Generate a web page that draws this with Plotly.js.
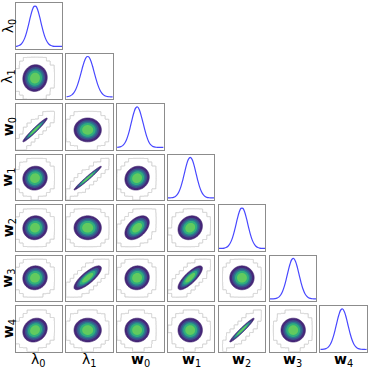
<!DOCTYPE html>
<html><head><meta charset="utf-8">
<script src="https://cdn.plot.ly/plotly-3.0.1.min.js"></script>
<style>html,body{margin:0;padding:0;background:#fff}#chart{width:369px;height:369px}</style>
</head><body><div id="chart"></div>
<script>
// ---- data ----
const paramLabels = ['λ<sub>0</sub>','λ<sub>1</sub>','<b>w</b><sub>0</sub>','<b>w</b><sub>1</sub>','<b>w</b><sub>2</sub>','<b>w</b><sub>3</sub>','<b>w</b><sub>4</sub>'];
const histX = [0,0.04,0.08,0.12,0.16,0.20,0.24,0.28,0.32,0.36,0.40,0.44,0.48,0.52,0.56,0.60,0.64,0.68,0.72,0.76,0.80,0.84,0.88,0.92,0.96,1.0];
const histLambda0 = [0.004,0.010,0.025,0.056,0.115,0.212,0.355,0.534,0.726,0.891,0.987,0.987,0.891,0.726,0.534,0.355,0.212,0.115,0.056,0.025,0.010,0.004,0.001,0,0,0];
const histLambda1 = [0.005,0.011,0.025,0.052,0.101,0.178,0.291,0.438,0.607,0.775,0.912,0.990,0.990,0.912,0.775,0.607,0.438,0.291,0.178,0.101,0.052,0.025,0.011,0.005,0.002,0.001];
const histW0 = [0.003,0.008,0.020,0.046,0.097,0.184,0.315,0.487,0.679,0.855,0.972,0.997,0.923,0.772,0.600,0.420,0.260,0.140,0.068,0.031,0.013,0.005,0.002,0,0,0];
const histW1 = [0.001,0.002,0.006,0.016,0.038,0.081,0.159,0.278,0.441,0.631,0.815,0.950,1.0,0.950,0.815,0.631,0.441,0.278,0.159,0.081,0.038,0.016,0.006,0.002,0.001,0];
const histW2 = [0,0.001,0.004,0.010,0.025,0.056,0.115,0.212,0.355,0.534,0.726,0.891,0.987,0.987,0.891,0.726,0.534,0.355,0.212,0.115,0.056,0.025,0.010,0.004,0.001,0];
const histW3 = [0,0.001,0.003,0.008,0.020,0.046,0.097,0.184,0.315,0.487,0.679,0.855,0.972,0.997,0.923,0.772,0.582,0.397,0.244,0.135,0.068,0.031,0.013,0.005,0.002,0];
const histW4 = [0.001,0.003,0.008,0.020,0.046,0.097,0.184,0.315,0.487,0.679,0.855,0.972,0.997,0.923,0.772,0.582,0.397,0.244,0.135,0.068,0.031,0.013,0.005,0.002,0,0];
const hists = [histLambda0,histLambda1,histW0,histW1,histW2,histW3,histW4];

// 2D posterior summaries (panel-fraction units)
const centers = [0.42,0.46,0.43,0.48,0.50,0.51,0.47];
const sigmas  = [0.125,0.14,0.125,0.125,0.125,0.125,0.125];
const corrLambda0 = [1,0.05,0.97,0.05,0.05,0.05,0.15];
const corrLambda1 = [0.05,1,0.0,0.98,0.0,0.8,0.0];
const corrW0      = [0.97,0.0,1,0.1,0.45,0.05,0.0];
const corrW1      = [0.05,0.98,0.1,1,0.15,0.8,0.0];
const corrW2      = [0.05,0.0,0.45,0.15,1,0.0,0.97];
const corrW3      = [0.05,0.8,0.05,0.8,0.0,1,0.0];
const corrW4      = [0.15,0.0,0.0,0.0,0.97,0.0,1];
const corr = [corrLambda0,corrLambda1,corrW0,corrW1,corrW2,corrW3,corrW4];

// contour bands (Mahalanobis radius) and colours
const bandLevels = [2.1,1.72,1.45,1.2,0.85];
const bandColors = ['#46287a','#3b528b','#2b7b8e','#2fae7c','#62ca5f'];
const outerLevel = 3.3;

// ---- drawing ----
const S = 369, W = 46.5, H = 45.5;
const colLeft = i => 15.5 + i*50.8;
const rowTop = j => 3 + j*50.5;
const axStyle = {showline:true, mirror:true, linecolor:'#8c8c8c', linewidth:1, showticklabels:false,
  ticks:'', showgrid:false, zeroline:false, fixedrange:true};

function grid(a,b,step){const g=[];for(let v=a;v<=b+1e-9;v+=step)g.push(+v.toFixed(4));return g;}
const gFine = grid(-0.02,1.02,0.01);
const gWide = grid(-0.3,1.3,0.01);
const nb = 12;

function mahal(x,y,cx,cy,sx,sy,rho){
  const dx=(x-cx)/sx, dy=(y-cy)/sy;
  return Math.sqrt((dx*dx-2*rho*dx*dy+dy*dy)/(1-rho*rho));
}

const data = [];
const layout = {width:S,height:S,margin:{l:0,r:0,t:0,b:0},showlegend:false,
  paper_bgcolor:'#fff',plot_bgcolor:'#fff',annotations:[]};
let ax = 0;
for(let j=0;j<7;j++){
  for(let i=0;i<=j;i++){
    ax++;
    const sfx = ax===1?'':String(ax);
    const xa='x'+sfx, ya='y'+sfx;
    layout['xaxis'+sfx] = Object.assign({domain:[colLeft(i)/S,(colLeft(i)+W)/S],anchor:ya,range:[0,1]},axStyle);
    layout['yaxis'+sfx] = Object.assign({domain:[1-(rowTop(j)+H)/S,1-rowTop(j)/S],anchor:xa,
      range: i===j?[-0.05,1.07]:[0,1]},axStyle);
    if(i===j){
      data.push({type:'scatter',mode:'lines',x:histX,y:hists[i],xaxis:xa,yaxis:ya,
        line:{color:'#4848ff',width:1.2,shape:'spline'},hoverinfo:'skip'});
    } else {
      const cx=centers[i], cy=centers[j], sx=sigmas[i], sy=sigmas[j], rho=corr[j][i];
      const b=0.05, sx2=Math.sqrt(sx*sx+b*b), sy2=Math.sqrt(sy*sy+b*b), rho2=rho*sx*sy/(sx2*sy2);
      const zg = gWide.map(y=>gWide.map(x=>{
        const bx=(Math.floor(x*nb)+0.5)/nb, by=(Math.floor(y*nb)+0.5)/nb;
        return mahal(bx,by,cx,cy,sx2,sy2,rho2);}));
      data.push({type:'contour',x:gWide,y:gWide,z:zg,xaxis:xa,yaxis:ya,autocontour:false,
        contours:{coloring:'none',start:outerLevel,end:outerLevel,size:1,showlines:true},
        line:{color:'#c4c4c4',width:0.9,smoothing:0},showscale:false,hoverinfo:'skip'});
      const zf = gFine.map(y=>gFine.map(x=>mahal(x,y,cx,cy,sx,sy,rho)));
      bandLevels.forEach((lev,k)=>{
        data.push({type:'contour',x:gFine,y:gFine,z:zf,xaxis:xa,yaxis:ya,
          contours:{type:'constraint',operation:'>',value:lev},
          fillcolor:bandColors[k],line:{width:k===0?0.6:0,color:k===0?'#3a1c68':bandColors[k]},showscale:false,hoverinfo:'skip'});
      });
    }
  }
}
// labels
const lblFont = {family:'DejaVu Sans',size:14,color:'#000'};
for(let i=0;i<7;i++){
  layout.annotations.push({xref:'paper',yref:'paper',x:(colLeft(i)+W/2)/S,y:1-360/S,
    text:paramLabels[i],showarrow:false,font:lblFont,xanchor:'center',yanchor:'middle'});
  layout.annotations.push({xref:'paper',yref:'paper',x:8.5/S,y:1-(rowTop(i)+H/2)/S,
    text:paramLabels[i],showarrow:false,font:lblFont,xanchor:'center',yanchor:'middle',textangle:-90});
}
Plotly.newPlot('chart',data,layout,{staticPlot:true});
</script></body></html>
